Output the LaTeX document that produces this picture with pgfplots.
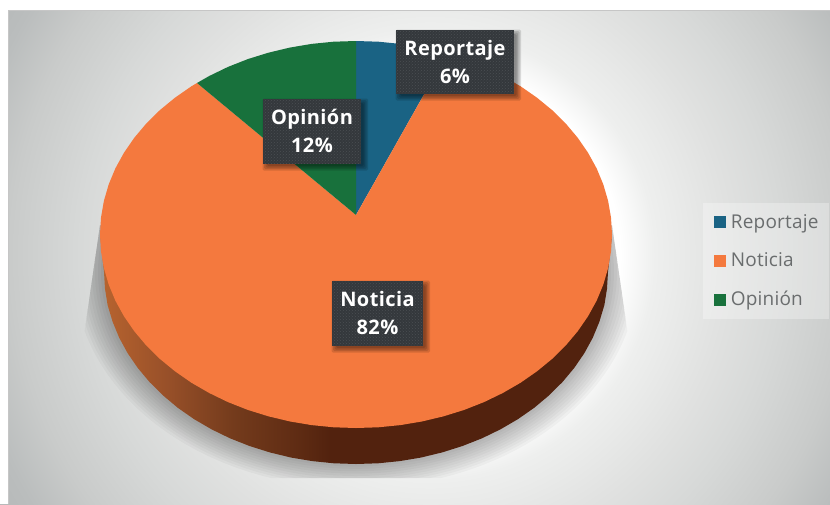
\documentclass[border=0pt]{standalone}
\usepackage{fontspec}
\setmainfont{Open Sans}
\newfontfamily\lblfont[LetterSpace=2]{Open Sans}
\newfontfamily\legfont[LetterSpace=1]{Open Sans}
\usepackage{pgfplots}
\pgfplotsset{compat=1.18}
\usetikzlibrary{patterns}
\definecolor{cblue}{HTML}{1A6384}
\definecolor{corange}{HTML}{F4793E}
\definecolor{cgreen}{HTML}{18713C}
\definecolor{clabel}{HTML}{34383C}
\definecolor{cdot}{HTML}{4A4E52}
\definecolor{clegtext}{HTML}{6A6D6E}
\definecolor{bga}{HTML}{FFFFFF}
\definecolor{bgb}{HTML}{EEEFEE}
\definecolor{bgc}{HTML}{E0E1E0}
\definecolor{bgd}{HTML}{D7D9D8}
\definecolor{bge}{HTML}{C9CBCA}
\definecolor{bgf}{HTML}{BABDBD}
\definecolor{bgg}{HTML}{B6B9B9}
\definecolor{wa}{HTML}{B8642F}
\definecolor{wb}{HTML}{985029}
\definecolor{wc}{HTML}{743B1C}
\definecolor{wd}{HTML}{5E2B13}
\definecolor{we}{HTML}{52220E}
\pgfdeclareradialshading{panelbg}{\pgfpoint{0bp}{0bp}}{%
  color(0bp)=(bga);color(9.5bp)=(bga);color(11.25bp)=(bgb);
  color(15bp)=(bgc);color(17.5bp)=(bgd);color(21bp)=(bge);
  color(23.5bp)=(bgf);color(25bp)=(bgg);color(50bp)=(bgg)}
\pgfdeclarehorizontalshading{wallshade}{100bp}{%
  color(0bp)=(wa);color(25bp)=(wa);color(31.5bp)=(wb);color(38bp)=(wc);
  color(44.5bp)=(wd);color(47.5bp)=(we);color(100bp)=(we)}
\newcommand{\lab}[5]{%
  \pgfplotsinvokeforeach{7,5.5,4,2.5}{%
    \fill[black,opacity=.13,rounded corners=1.5pt]
      (axis cs:{#1+4-##1+2.5},{#2+4-##1+2.5}) rectangle (axis cs:{#3+##1},{#4+##1});}
  \fill[clabel] (axis cs:#1,#2) rectangle (axis cs:#3,#4);
  \fill[pattern=crosshatch dots,pattern color=cdot] (axis cs:#1,#2) rectangle (axis cs:#3,#4);
  \node[text=white,align=center,inner sep=0pt,font=\fontsize{20}{28}\selectfont\lblfont\bfseries]
    at (axis cs:{(#1+#3)/2},{(#2+#4)/2}) {#5};}
\begin{document}
\begin{tikzpicture}
\begin{axis}[
  scale only axis,width=830pt,height=504pt,
  xmin=0,xmax=830,ymin=0,ymax=504,y dir=reverse,
  hide axis,clip=true,
  legend style={at={(0.8466,0.5978)},anchor=north west,draw=none,fill=white,
    fill opacity=.3,text opacity=1,inner xsep=11pt,inner ysep=11.5pt,
    row sep=23pt,font=\fontsize{19}{20}\selectfont\legfont,text=clegtext,
    nodes={inner sep=0pt,anchor=base west}},
  legend cell align=left,
  legend image code/.code={\fill[#1,draw=none,fill opacity=1] (0pt,0pt) rectangle (12pt,12pt);},
]
% background
\fill[shade,shading=panelbg] (axis cs:-70,-245) rectangle (axis cs:930,755);
\fill[white] (axis cs:0,0) rectangle (axis cs:8,504);
\fill[white] (axis cs:0,0) rectangle (axis cs:830,10);
\draw[gray!45,line width=.8pt] (axis cs:8.3,504) -- (axis cs:8.3,10) -- (axis cs:830,10);
% pie shadow
\begin{scope}
\clip (axis cs:100,225)--(axis cs:612,225)--(axis cs:628,335)--(axis cs:635,478)--(axis cs:76,478)--(axis cs:84,335)--cycle;
\pgfplotsinvokeforeach{30,27,24,21,18,15,12,9,6,3}{
  \fill[black,opacity=.032] (axis cs:356,272) ellipse [x radius=252pt+#1pt,y radius=192pt+#1pt*.8];}
\end{scope}
% side wall
\addplot[forget plot,draw=none,shade,shading=wallshade] coordinates {
(100,234.5)(104,272)(105,288.7)(107.6,305)(112.6,321.7)(119.2,337.7)(127.6,353.1)(137.8,368)(149.6,382.1)(163,395.4)(177.8,407.8)(194,419.1)(211.5,429.3)(230,438.3)(249.5,446)(269.8,452.4)(290.8,457.5)(312.3,461.1)(334,463.3)(356,464)(378,463.3)(399.7,461.1)(421.2,457.5)(442.2,452.4)(462.5,446)(482,438.3)(500.5,429.3)(518,419.1)(534.2,407.8)(549,395.4)(562.4,382.1)(574.2,368)(584.4,353.1)(592.8,337.7)(599.4,321.7)(604.4,305)(607,288.7)(608,272)(612,234.5)
} -- cycle;
% pie
\addplot[draw=none,fill=cblue] coordinates {
(356,215)(356,41)(378.3,41.7)(400.4,43.9)(422.3,47.6)(443.6,52.7)(447,53.6)
} -- cycle;
\addlegendentry{\hspace{5pt}Reportaje}
\addplot[draw=none,fill=corange] coordinates {
(356,215)(447,53.6)(464.2,59.1)(484,66.9)(502.8,76)(520.6,86.3)(537,97.7)(552.1,110.1)(565.7,123.5)(577.7,137.75)(588,152.7)(596.6,168.3)(603.3,184.4)(608.1,200.9)(611,217.6)(612,234.5)(611,251.4)(608.1,268.1)(603.3,284.6)(596.6,300.7)(588,316.3)(577.7,331.25)(565.7,345.5)(552.1,358.9)(537,371.3)(520.6,382.7)(502.8,393)(484,402.1)(464.2,409.9)(443.6,416.3)(422.3,421.4)(400.4,425.1)(378.3,427.3)(356,428)(333.7,427.3)(311.6,425.1)(289.7,421.4)(268.4,416.3)(247.8,409.9)(228,402.1)(209.2,393)(191.4,382.7)(175,371.3)(159.9,358.9)(146.3,345.5)(134.3,331.25)(124,316.3)(115.4,300.7)(108.7,284.6)(103.9,268.1)(101,251.4)(100,234.5)(101,217.6)(103.9,200.9)(108.7,184.4)(115.4,168.3)(124,152.7)(134.3,137.75)(146.3,123.5)(159.9,110.1)(175,97.7)(191.4,86.3)(197,83)
} -- cycle;
\addlegendentry{\hspace{5pt}Noticia}
\addplot[draw=none,fill=cgreen] coordinates {
(356,215)(197,83)(209.2,76)(228,66.9)(247.8,59.1)(268.4,52.7)(289.7,47.6)(311.6,43.9)(333.7,41.7)(356,41)
} -- cycle;
\addlegendentry{\hspace{5pt}Opinión}
% data labels
\lab{396}{30}{514}{93.5}{Reportaje\\6\%}
\lab{263}{99}{361}{163.7}{Opinión\\12\%}
\lab{332}{281}{423}{345.7}{Noticia\\82\%}
\end{axis}
\end{tikzpicture}
\end{document}
